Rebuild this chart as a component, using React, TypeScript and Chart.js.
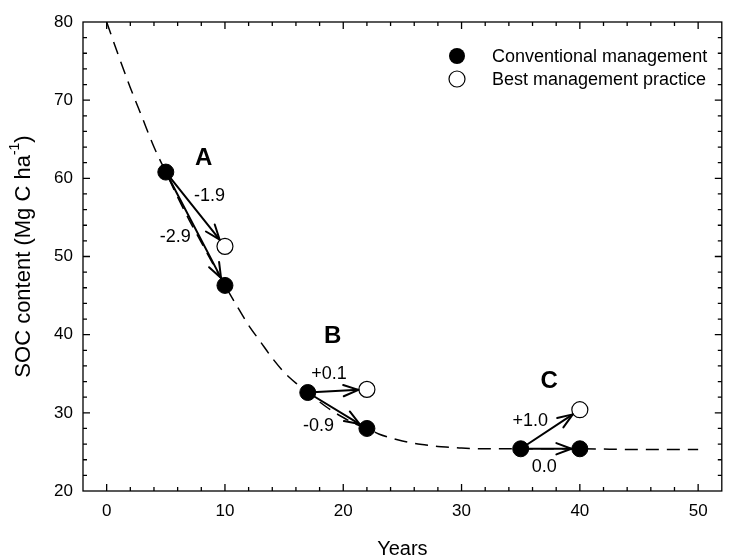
import React, { useEffect, useRef } from "react";
import { Chart, registerables } from "chart.js";

Chart.register(...registerables);

// Fitted SOC decline curve
const curveYears = [0, 1, 2, 3, 4, 5, 6, 7, 8, 9, 10, 11, 12, 13, 14, 15, 16, 17, 18, 19, 20, 21, 22, 23, 24, 25, 26, 27, 28, 29, 30, 32, 35, 40, 45, 50];
const curveSOC = [80, 75.7, 71.6, 67.8, 64.0, 60.8, 57.6, 54.6, 51.8, 49.0, 46.3, 43.7, 41.2, 39.1, 37.0, 35.2, 33.8, 32.6, 31.4, 30.3, 29.4, 28.6, 28.0, 27.3, 26.8, 26.4, 26.1, 25.9, 25.7, 25.6, 25.5, 25.4, 25.4, 25.4, 25.3, 25.3];

// Conventional management points
const convYears = [5, 10, 17, 22, 35, 40];
const convSOC = [60.8, 46.3, 32.6, 28.0, 25.4, 25.4];

// Best management practice points
const bmpYears = [10, 22, 40];
const bmpSOC = [51.3, 33.0, 30.4];

// Arrows (rate of change, Mg C/ha/yr)
const arrowFromYears = [5, 5, 17, 17, 35, 35];
const arrowFromSOC = [60.8, 60.8, 32.6, 32.6, 25.4, 25.4];
const arrowToYears = [10, 10, 22, 22, 40, 40];
const arrowToSOC = [51.3, 46.3, 33.0, 28.0, 30.4, 25.4];
const changeLabels = ["-1.9", "-2.9", "+0.1", "-0.9", "+1.0", "0.0"];
const changeLabelYears = [8.7, 5.8, 18.8, 17.9, 35.8, 37.0];
const changeLabelSOC = [57.7, 52.5, 35.0, 28.3, 29.0, 23.1];

// Scenario letters
const scenarioLabels = ["A", "B", "C"];
const scenarioYears = [8.2, 19.1, 37.4];
const scenarioSOC = [62.6, 39.8, 34.0];

// Axes
const xTicks = [0, 10, 20, 30, 40, 50];
const yTicks = [20, 30, 40, 50, 60, 70, 80];
const xMinorTicks = [0, 2, 4, 6, 8, 10, 12, 14, 16, 18, 20, 22, 24, 26, 28, 30, 32, 34, 36, 38, 40, 42, 44, 46, 48, 50];
const yMinorTicks = [22, 24, 26, 28, 30, 32, 34, 36, 38, 40, 42, 44, 46, 48, 50, 52, 54, 56, 58, 60, 62, 64, 66, 68, 70, 72, 74, 76, 78];
const xTitle = "Years";
const yTitleMain = "SOC content (Mg C ha";
const yTitleSup = "-1";
const yTitleEnd = ")";
const legendLabels = ["Conventional management", "Best management practice"];

const FONT = "'Liberation Sans', Arial, Helvetica, sans-serif";

function drawArrow(ctx: CanvasRenderingContext2D, x1: number, y1: number, x2: number, y2: number, shorten: number) {
  const ang = Math.atan2(y2 - y1, x2 - x1);
  const ex = x2 - Math.cos(ang) * shorten;
  const ey = y2 - Math.sin(ang) * shorten;
  ctx.beginPath();
  ctx.moveTo(x1, y1);
  ctx.lineTo(ex, ey);
  ctx.stroke();
  const head = 16;
  const spread = 0.36;
  ctx.beginPath();
  ctx.moveTo(ex - head * Math.cos(ang - spread), ey - head * Math.sin(ang - spread));
  ctx.lineTo(ex, ey);
  ctx.lineTo(ex - head * Math.cos(ang + spread), ey - head * Math.sin(ang + spread));
  ctx.stroke();
}

const decorPlugin = {
  id: "decor",
  afterDatasetsDraw(chart: any) {
    const ctx: CanvasRenderingContext2D = chart.ctx;
    const xs = chart.scales.x;
    const ys = chart.scales.y;
    ctx.save();
    ctx.strokeStyle = "#000";
    ctx.lineWidth = 2;
    ctx.lineCap = "round";
    ctx.lineJoin = "round";
    for (let i = 0; i < arrowFromYears.length; i++) {
      drawArrow(
        ctx,
        xs.getPixelForValue(arrowFromYears[i]),
        ys.getPixelForValue(arrowFromSOC[i]),
        xs.getPixelForValue(arrowToYears[i]),
        ys.getPixelForValue(arrowToSOC[i]),
        8.5
      );
    }
    ctx.restore();
  },
  afterDraw(chart: any) {
    const ctx: CanvasRenderingContext2D = chart.ctx;
    const { left, right, top, bottom } = chart.chartArea;
    const xs = chart.scales.x;
    const ys = chart.scales.y;
    ctx.save();
    // frame
    ctx.strokeStyle = "#000";
    ctx.lineWidth = 1.3;
    ctx.strokeRect(left, top, right - left, bottom - top);
    // inward ticks
    ctx.beginPath();
    for (const v of xMinorTicks) {
      const px = xs.getPixelForValue(v);
      const len = v % 10 === 0 ? 7 : 4;
      ctx.moveTo(px, bottom);
      ctx.lineTo(px, bottom - len);
      ctx.moveTo(px, top);
      ctx.lineTo(px, top + len);
    }
    for (const v of yMinorTicks) {
      const py = ys.getPixelForValue(v);
      const len = v % 10 === 0 ? 7 : 4;
      ctx.moveTo(left, py);
      ctx.lineTo(left + len, py);
      ctx.moveTo(right, py);
      ctx.lineTo(right - len, py);
    }
    ctx.stroke();

    // change labels
    ctx.fillStyle = "#000";
    ctx.textAlign = "center";
    ctx.textBaseline = "middle";
    ctx.font = `18px ${FONT}`;
    for (let i = 0; i < changeLabels.length; i++) {
      ctx.fillText(changeLabels[i], xs.getPixelForValue(changeLabelYears[i]), ys.getPixelForValue(changeLabelSOC[i]));
    }
    ctx.font = `bold 24px ${FONT}`;
    for (let i = 0; i < scenarioLabels.length; i++) {
      ctx.fillText(scenarioLabels[i], xs.getPixelForValue(scenarioYears[i]), ys.getPixelForValue(scenarioSOC[i]));
    }

    // legend
    const lx = 457;
    const rows = [56, 79];
    ctx.font = `18px ${FONT}`;
    ctx.textAlign = "left";
    for (let i = 0; i < legendLabels.length; i++) {
      ctx.beginPath();
      ctx.arc(lx, rows[i], 8, 0, Math.PI * 2);
      if (i === 0) {
        ctx.fillStyle = "#000";
        ctx.fill();
      } else {
        ctx.fillStyle = "#fff";
        ctx.fill();
        ctx.lineWidth = 1.2;
        ctx.strokeStyle = "#000";
        ctx.stroke();
      }
      ctx.fillStyle = "#000";
      ctx.fillText(legendLabels[i], 492, rows[i] + 1);
    }

    // x title
    ctx.font = `20px ${FONT}`;
    ctx.textAlign = "center";
    ctx.fillText(xTitle, (left + right) / 2, 549);

    // y title with superscript
    ctx.translate(24, (top + bottom) / 2);
    ctx.rotate(-Math.PI / 2);
    const mainFont = `22px ${FONT}`;
    const supFont = `14px ${FONT}`;
    ctx.font = mainFont;
    const w1 = ctx.measureText(yTitleMain).width;
    const w3 = ctx.measureText(yTitleEnd).width;
    ctx.font = supFont;
    const w2 = ctx.measureText(yTitleSup).width;
    let sx = -(w1 + w2 + w3) / 2;
    ctx.textAlign = "left";
    ctx.font = mainFont;
    ctx.fillText(yTitleMain, sx, 0);
    sx += w1;
    ctx.font = supFont;
    ctx.fillText(yTitleSup, sx, -9);
    sx += w2;
    ctx.font = mainFont;
    ctx.fillText(yTitleEnd, sx, 0);
    ctx.restore();
  },
};

export default function App() {
  const canvasRef = useRef<HTMLCanvasElement | null>(null);

  useEffect(() => {
    const canvas = canvasRef.current;
    if (!canvas) return;
    const chart = new Chart(canvas, {
      type: "scatter",
      data: {
        datasets: [
          {
            label: legendLabels[0],
            data: convYears.map((x, i) => ({ x, y: convSOC[i] })),
            pointRadius: 8,
            pointHoverRadius: 8,
            backgroundColor: "#000",
            borderColor: "#000",
            borderWidth: 1,
          },
          {
            label: legendLabels[1],
            data: bmpYears.map((x, i) => ({ x, y: bmpSOC[i] })),
            pointRadius: 8,
            pointHoverRadius: 8,
            backgroundColor: "#fff",
            borderColor: "#000",
            borderWidth: 1.2,
          },
          {
            type: "line",
            label: "curve",
            data: curveYears.map((x, i) => ({ x, y: curveSOC[i] })),
            borderColor: "#000",
            borderWidth: 1.5,
            borderDash: [13, 8],
            pointRadius: 0,
            pointHoverRadius: 0,
            fill: false,
            cubicInterpolationMode: "monotone",
          } as any,
        ],
      },
      options: {
        animation: false,
        responsive: true,
        maintainAspectRatio: false,
        events: [],
        layout: { padding: { top: 22, right: 1, left: 0, bottom: 0 } },
        plugins: {
          legend: { display: false },
          tooltip: { enabled: false },
        },
        scales: {
          x: {
            type: "linear",
            min: -2,
            max: 52,
            afterBuildTicks: (s: any) => {
              s.ticks = xTicks.map((v) => ({ value: v }));
            },
            afterFit: (s: any) => {
              s.height = 68;
            },
            grid: { display: false, drawTicks: false },
            border: { display: false },
            ticks: {
              padding: 10,
              color: "#000",
              maxRotation: 0,
              autoSkip: false,
              font: { family: FONT, size: 17 },
            },
          },
          y: {
            type: "linear",
            min: 20,
            max: 80,
            afterBuildTicks: (s: any) => {
              s.ticks = yTicks.map((v) => ({ value: v }));
            },
            afterFit: (s: any) => {
              s.width = 83;
            },
            grid: { display: false, drawTicks: false },
            border: { display: false },
            ticks: {
              padding: 10,
              color: "#000",
              autoSkip: false,
              font: { family: FONT, size: 17 },
            },
          },
        },
      },
      plugins: [decorPlugin],
    });
    return () => chart.destroy();
  }, []);

  return (
    <div style={{ position: "absolute", left: 0, top: 0, width: 731, height: 559, background: "#fff" }}>
      <canvas ref={canvasRef} />
    </div>
  );
}
